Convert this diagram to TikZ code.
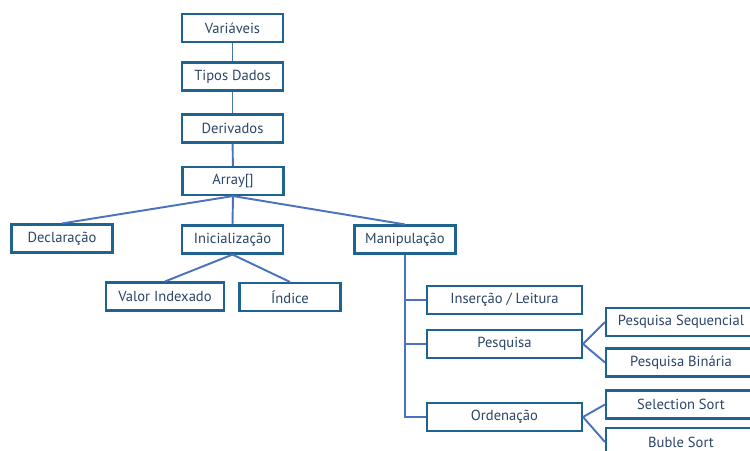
\documentclass[tikz,border=0pt]{standalone}
\usepackage{fontspec}
\setmainfont{PT Sans}
\definecolor{borda}{HTML}{1F6391}
\definecolor{texto}{HTML}{2B4568}
\definecolor{ligacao}{HTML}{4A73BE}
\tikzset{
  caixa/.style={draw=borda, line width=1.2pt, fill=white, text=texto,
    minimum width=2.02cm, minimum height=0.56cm, inner sep=0pt,
    font=\fontsize{8.3}{9}\selectfont},
  larga/.style={caixa, minimum width=3.1cm},
  direita/.style={caixa, minimum width=3cm},
  liga/.style={draw=ligacao, line width=1.1pt}
}
\begin{document}
\begin{tikzpicture}[x=0.02cm, y=-0.02cm]
	\useasboundingbox (0,0) rectangle (750,450);
	%a coluna do meio
	\node[caixa] (var) at (232.5,28) {Variáveis};
	\node[caixa] (tip) at (232.5,76.5) {Tipos Dados};
	\node[caixa] (der) at (232.5,128.5) {Derivados};
	\node[caixa] (arr) at (233,181) {Array[]};
	%segundo nivel
	\node[caixa] (dec) at (62,238.5) {Declaração};
	\node[caixa] (ini) at (232.5,239.5) {Inicialização};
	\node[caixa] (man) at (405,239.5) {Manipulação};
	\node[caixa, minimum width=2.36cm] (val) at (165,296.5) {Valor Indexado};
	\node[caixa] (ind) at (290,297) {Índice};
	%manipulacao
	\node[larga] (ins) at (504.5,300) {Inserção / Leitura};
	\node[larga] (pes) at (504.5,344) {Pesquisa};
	\node[larga] (ord) at (504.5,417) {Ordenação};
	\node[direita] (seq) at (681,322) {Pesquisa Sequencial};
	\node[direita] (bin) at (681,362.5) {Pesquisa Binária};
	\node[direita] (sel) at (681,404.5) {Selection Sort};
	\node[direita] (bub) at (681,442) {Buble Sort};
	%ligacoes
	\draw[liga] (var) -- (tip);
	\draw[liga] (tip) -- (der);
	\draw[liga] (der) -- (arr);
	\draw[liga] (arr.south) -- (dec.north);
	\draw[liga] (arr.south) -- (ini.north);
	\draw[liga] (arr.south) -- (man.north);
	\draw[liga] (ini.south) -- (val.north);
	\draw[liga] (ini.south) -- (ind.north);
	\draw[liga] (man.south) |- (ins.west);
	\draw[liga] (man.south) |- (pes.west);
	\draw[liga] (man.south) |- (ord.west);
	\draw[liga] (pes.east) -- (seq.west);
	\draw[liga] (pes.east) -- (bin.west);
	\draw[liga] (ord.east) -- (sel.west);
	\draw[liga] (ord.east) -- (bub.west);
\end{tikzpicture}
\end{document}
